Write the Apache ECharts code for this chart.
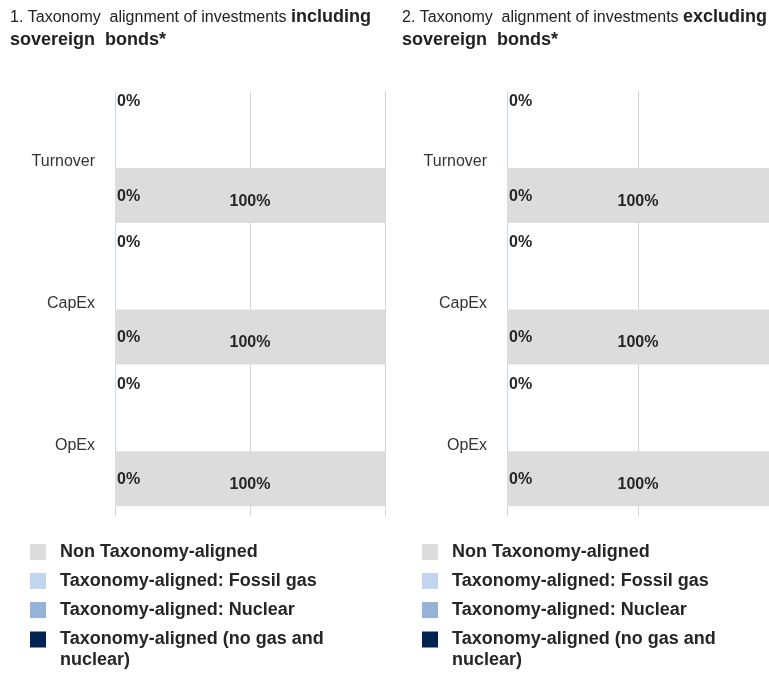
<!DOCTYPE html>
<html>
<head>
<meta charset="utf-8">
<script src="https://cdn.jsdelivr.net/npm/echarts@6/dist/echarts.min.js"></script>
<style>
html,body{margin:0;padding:0;background:#fff;}
#c{width:769px;height:675px;}
</style>
</head>
<body>
<div id="c"></div>
<script>
// ---- data ----
var categories = ['Turnover', 'CapEx', 'OpEx'];
// chart 1: including sovereign bonds
var inclFossilGas = [0, 0, 0];
var inclNuclear = [0, 0, 0];
var inclAlignedNoGasNuclear = [0, 0, 0];
var inclNonAligned = [100, 100, 100];
// chart 2: excluding sovereign bonds
var exclFossilGas = [0, 0, 0];
var exclNuclear = [0, 0, 0];
var exclAlignedNoGasNuclear = [0, 0, 0];
var exclNonAligned = [100, 100, 100];

var seriesNames = ['Non Taxonomy-aligned', 'Taxonomy-aligned: Fossil gas', 'Taxonomy-aligned: Nuclear', 'Taxonomy-aligned (no gas and nuclear)'];
var legendLabels = ['Non Taxonomy-aligned', 'Taxonomy-aligned: Fossil gas', 'Taxonomy-aligned: Nuclear', '\nTaxonomy-aligned (no gas and\nnuclear)'];
var titles = [
  '{r|1. Taxonomy  alignment of investments }{b|including}\n{b|sovereign  bonds*}',
  '{r|2. Taxonomy  alignment of investments }{b|excluding}\n{b|sovereign  bonds*}'
];

var colors = {
  non: '#dcdcdc',
  gas: '#c2d5ee',
  nuc: '#95b3d7',
  aligned: '#002452'
};
var FONT = '"Liberation Sans", Arial, sans-serif';
var textColor = '#262626';

var chart = echarts.init(document.getElementById('c'), null, {renderer: 'canvas'});

function labelCfg(show, pos, offset) {
  return {
    show: show,
    position: pos,
    distance: 2,
    offset: offset,
    formatter: '{c}%',
    fontFamily: FONT,
    fontWeight: 'bold',
    fontSize: 16,
    color: textColor
  };
}

function makeSeries(idx, gas, nuc, aligned, non) {
  var base = {type: 'bar', xAxisIndex: idx, yAxisIndex: idx, barWidth: 55, barGap: '22%', silent: true, animation: false};
  return [
    Object.assign({}, base, {name: seriesNames[1], stack: 'u' + idx, data: gas, itemStyle: {color: colors.gas}, label: labelCfg(true, 'insideLeft', [0, -27])}),
    Object.assign({}, base, {name: seriesNames[2], stack: 'u' + idx, data: nuc, itemStyle: {color: colors.nuc}, label: labelCfg(false, 'insideLeft', [0, 0])}),
    Object.assign({}, base, {name: seriesNames[3], stack: 'l' + idx, data: aligned, itemStyle: {color: colors.aligned}, label: labelCfg(true, 'insideLeft', [0, 1])}),
    Object.assign({}, base, {name: seriesNames[0], stack: 'l' + idx, data: non, itemStyle: {color: colors.non}, label: labelCfg(true, 'inside', [0, 6])})
  ];
}

var legendColors = [colors.non, colors.gas, colors.nuc, colors.aligned];
var legendCenters = [552, 581, 610, 639.5];
var legends = [];
[30, 422].forEach(function (lx) {
  seriesNames.forEach(function (nm, i) {
    var last = i === 3;
    legends.push({
      left: lx,
      top: last ? legendCenters[i] - 31.5 : legendCenters[i] - 10.5,
      padding: 0,
      orient: 'vertical',
      icon: 'rect',
      itemWidth: 16,
      itemHeight: 16,
      selectedMode: false,
      data: [{name: nm, itemStyle: {color: legendColors[i]}}],
      formatter: function () { return legendLabels[i]; },
      textStyle: {
        fontFamily: FONT,
        fontWeight: 'bold',
        fontSize: 18,
        color: textColor,
        lineHeight: 21,
        padding: [0, 0, 0, 9]
      }
    });
  });
});

function yAxisCfg(idx) {
  return {
    type: 'category', gridIndex: idx, data: categories, inverse: true,
    axisLine: {show: true, lineStyle: {color: '#c6d8f0', width: 1}},
    axisTick: {show: false},
    axisLabel: {fontFamily: FONT, fontSize: 16, color: '#333', margin: 20}
  };
}
function xAxisCfg(idx) {
  return {
    type: 'value', gridIndex: idx, min: 0, max: 100, interval: 50,
    axisLine: {show: false}, axisTick: {show: false}, axisLabel: {show: false},
    splitLine: {show: true, lineStyle: {color: '#d6d6d6', width: 1}}
  };
}

var option = {
  backgroundColor: '#fff',
  animation: false,
  title: titles.map(function (t, i) {
    return {
      text: t, left: i === 0 ? 10 : 402, top: 6, padding: 0,
      textStyle: {
        fontWeight: 'normal',
        rich: {
          r: {fontFamily: FONT, fontSize: 16, fontWeight: 'normal', color: '#222', lineHeight: 23},
          b: {fontFamily: FONT, fontSize: 18, fontWeight: 'bold', color: '#222', lineHeight: 23}
        }
      }
    };
  }),
  legend: legends,
  grid: [
    {left: 115, width: 270, top: 91, height: 425},
    {left: 507, width: 272, top: 91, height: 425}
  ],
  xAxis: [xAxisCfg(0), xAxisCfg(1)],
  yAxis: [yAxisCfg(0), yAxisCfg(1)],
  series: [].concat(
    makeSeries(0, inclFossilGas, inclNuclear, inclAlignedNoGasNuclear, inclNonAligned),
    makeSeries(1, exclFossilGas, exclNuclear, exclAlignedNoGasNuclear, exclNonAligned)
  )
};
chart.setOption(option);
</script>
</body>
</html>
